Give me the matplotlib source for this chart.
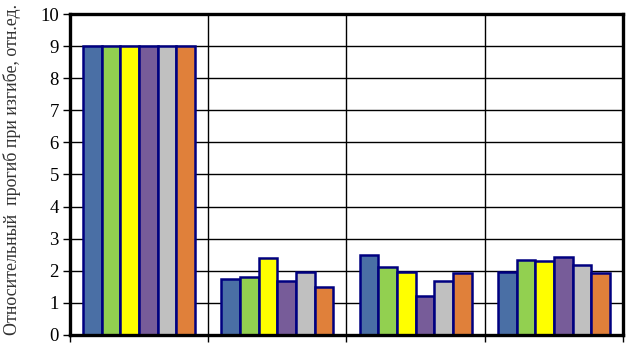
import numpy as np
import matplotlib.pyplot as plt

# Data
groups = ["1", "2", "3", "4"]
s1 = [9.0, 1.73, 2.49, 1.97]
s2 = [9.0, 1.80, 2.13, 2.35]
s3 = [9.0, 2.41, 1.97, 2.31]
s4 = [9.0, 1.68, 1.23, 2.44]
s5 = [9.0, 1.97, 1.69, 2.17]
s6 = [9.0, 1.49, 1.92, 1.92]
series = [s1, s2, s3, s4, s5, s6]
colors = ["#4A6FA5", "#92D050", "#FFFF00", "#775C99", "#C0C0C0", "#E0803A"]

plt.rcParams['font.family'] = ['Liberation Serif', 'DejaVu Serif']

fig = plt.figure(figsize=(6.27, 3.44), dpi=100)
ax = fig.add_axes([0.1116, 0.0262, 0.8820, 0.9331])

x = np.arange(len(groups))
w = 0.81 / len(series)
for i, vals in enumerate(series):
    ax.bar(x - 0.405 + w * (i + 0.5), vals, width=w, color=colors[i],
           edgecolor="#000080", linewidth=1.8, zorder=3)

ax.set_xlim(-0.5, len(groups) - 0.5)
ax.set_ylim(0, 10)
ax.set_yticks(range(0, 11))
ax.set_xticks(np.arange(len(groups) + 1) - 0.5)
ax.set_xticklabels([])
ax.grid(True, color="black", linewidth=1.0, zorder=0)
ax.tick_params(axis="y", direction="out", length=5, width=1, labelsize=13.5, pad=3)
ax.tick_params(axis="x", direction="out", length=5, width=1)
for sp in ax.spines.values():
    sp.set_linewidth(2.4)
    sp.set_zorder(4)

ax.set_ylabel("Относительный  прогиб при изгибе, отн.ед.", fontsize=12.9,
              color="#333333", va="center")
ax.yaxis.set_label_coords(-0.104, 0.515)

fig.savefig("out.png", dpi=100)
